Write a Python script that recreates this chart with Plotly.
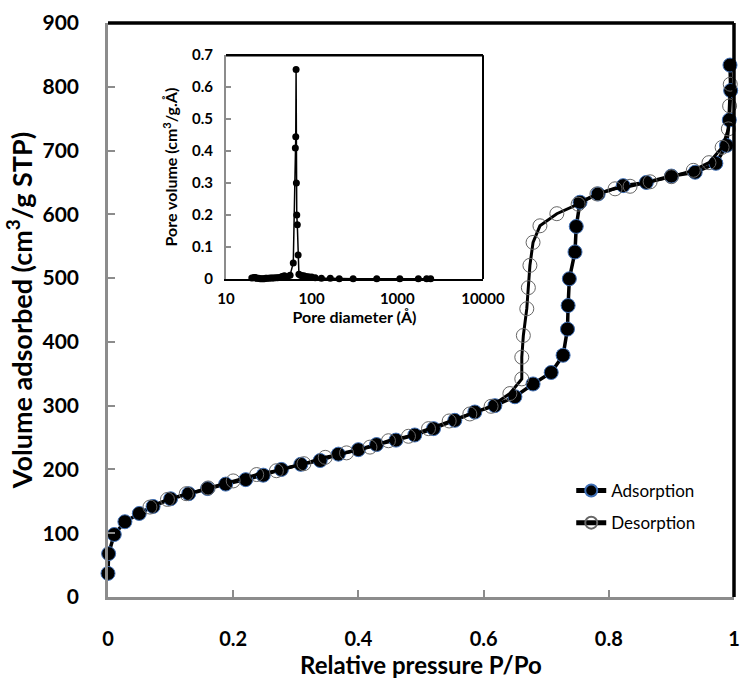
import plotly.graph_objects as go

# ---- Main isotherm data ----
P_ads = [0.0, 0.001, 0.010, 0.027, 0.050, 0.072, 0.100, 0.129, 0.159, 0.188, 0.220, 0.248,
         0.277, 0.308, 0.339, 0.368, 0.400, 0.429, 0.460, 0.490, 0.520, 0.554, 0.586, 0.618,
         0.650, 0.679, 0.708, 0.727, 0.734, 0.735, 0.737, 0.746, 0.748, 0.754, 0.783, 0.823,
         0.860, 0.900, 0.938, 0.971, 0.988, 0.9925, 0.9947, 0.9936]
V_ads = [37, 68, 98, 118, 131, 142, 154, 162, 170, 177, 184, 191,
         200, 208, 214, 224, 231, 239, 246, 254, 264, 277, 290, 300,
         314, 334, 352, 379, 420, 457, 499, 541, 581, 619, 632, 645,
         650, 660, 666, 680, 708, 748, 794, 834]

P_des = [0.994, 0.993, 0.991, 0.981, 0.960, 0.935, 0.900, 0.866, 0.834, 0.810, 0.781, 0.751,
         0.717, 0.690, 0.679, 0.674, 0.6715, 0.669, 0.6635, 0.661, 0.661, 0.642, 0.612, 0.578,
         0.545, 0.512, 0.480, 0.448, 0.4185, 0.381, 0.347, 0.313, 0.269, 0.2375, 0.200, 0.160,
         0.125, 0.095, 0.067]
V_des = [804, 770, 734, 705, 681, 669, 659, 651, 644, 640, 632, 616,
         601, 582, 556, 520, 485, 452, 410, 376, 342, 319, 299, 287,
         276, 264, 252, 245, 235, 226, 219, 209, 198, 192, 182, 171,
         162, 153, 141]

# ---- Inset pore size distribution ----
D_pore = [20, 21, 21.5, 22, 22.5, 23, 24, 25, 26, 27, 28, 29, 30, 31.5, 33, 34.5, 36, 38, 40,
          42, 45, 48, 52, 56, 61, 64.5, 65.2, 65.8, 66.3, 67, 68, 69.5, 71, 74, 77, 81, 86,
          92, 100, 110, 130, 165, 210, 305, 575, 1070, 1760, 2200, 2450]
V_pore = [0.003, 0.004, 0.005, 0.004, 0.003, 0.002, 0.002, 0.001, 0.001, 0.001, 0.001, 0.002,
          0.002, 0.002, 0.003, 0.003, 0.003, 0.004, 0.004, 0.005, 0.008, 0.010, 0.006, 0.012,
          0.050, 0.410, 0.445, 0.655, 0.300, 0.200, 0.170, 0.075, 0.015, 0.012, 0.010, 0.010,
          0.008, 0.007, 0.006, 0.004, 0.002, 0.002, 0.001, 0.001, 0.001, 0.001, 0.001, 0.001, 0.001]

x_ticks = [0, 0.2, 0.4, 0.6, 0.8, 1]
x_ticklabels = ["0", "0.2", "0.4", "0.6", "0.8", "1"]
y_ticks = list(range(0, 901, 100))
inset_y_ticks = [0, 0.1, 0.2, 0.3, 0.4, 0.5, 0.6, 0.7]
inset_y_labels = ["0", "0.1", "0.2", "0.3", "0.4", "0.5", "0.6", "0.7"]
inset_x_ticks = [10, 100, 1000, 10000]
inset_x_labels = ["10", "100", "1000", "10000"]

FONT = "Lato"

fig = go.Figure()

fig.add_trace(go.Scatter(
    x=P_ads, y=V_ads, mode="lines+markers", name="Adsorption", cliponaxis=False,
    legendgroup="a",
    line=dict(color="black", width=3.5),
    marker=dict(symbol="circle", size=14, color="black", line=dict(color="#3f6fb5", width=1)),
))
fig.add_trace(go.Scatter(
    x=P_des, y=V_des, mode="lines+markers", name="Desorption", cliponaxis=False,
    legendgroup="b",
    line=dict(color="black", width=3),
    marker=dict(symbol="circle-open", size=14, color="#666666", line=dict(width=1)),
))
fig.add_trace(go.Scatter(
    x=D_pore, y=V_pore, mode="lines+markers", xaxis="x2", yaxis="y2", showlegend=False,
    cliponaxis=False,
    line=dict(color="black", width=1.5),
    marker=dict(symbol="circle", size=7, color="black"),
))

fig.update_layout(
    width=740, height=685,
    margin=dict(l=108, r=6, t=23, b=88, autoexpand=False),
    plot_bgcolor="white", paper_bgcolor="white",
    font=dict(family=FONT, color="black"),
    xaxis=dict(
        range=[0, 1], tickvals=x_ticks, ticktext=x_ticklabels, automargin=False,
        showgrid=False, zeroline=False, showline=True, linecolor="#8c8c8c", linewidth=2.5,
        ticks="inside", ticklen=7, tickwidth=2, tickcolor="#8c8c8c",
        tickfont=dict(family=FONT, size=20, color="black", weight="bold"),
        ticklabelstandoff=22,
        title=dict(text="Relative pressure P/Po", font=dict(family=FONT, size=24, weight="bold"),
                   standoff=3),
    ),
    yaxis=dict(
        range=[0, 900], tickvals=y_ticks, automargin=False,
        showgrid=False, zeroline=False, showline=True, linecolor="#8c8c8c", linewidth=2.5,
        ticks="inside", ticklen=7, tickwidth=2, tickcolor="#8c8c8c",
        tickfont=dict(family=FONT, size=21, color="black", weight="bold"),
        ticklabelstandoff=22,
        title=dict(text="Volume adsorbed (cm<sup>3</sup>/g STP)",
                   font=dict(family=FONT, size=27, weight="bold"), standoff=3),
    ),
    xaxis2=dict(
        type="log", range=[1, 4], domain=[0.1885, 0.599], anchor="y2", automargin=False,
        tickvals=inset_x_ticks, ticktext=inset_x_labels,
        showgrid=False, zeroline=False, showline=True, linecolor="black", linewidth=2,
        ticks="",
        tickfont=dict(family=FONT, size=15, color="black", weight="bold"),
        ticklabelstandoff=5,
        title=dict(text="Pore diameter (Å)", font=dict(family=FONT, size=16, weight="bold"),
                   standoff=0),
    ),
    yaxis2=dict(
        range=[0, 0.7], domain=[0.554, 0.944], anchor="x2", automargin=False,
        tickvals=inset_y_ticks, ticktext=inset_y_labels,
        showgrid=False, zeroline=False, showline=True, linecolor="#8c8c8c", linewidth=2,
        ticks="inside", ticklen=5, tickwidth=1.5, tickcolor="#8c8c8c",
        tickfont=dict(family=FONT, size=15, color="black", weight="bold"),
        ticklabelstandoff=8,
        title=dict(text="Pore volume (cm<sup>3</sup>/g.Å)",
                   font=dict(family=FONT, size=16, weight="bold"), standoff=10),
    ),
    legend=dict(
        x=0.74, y=0.216, xanchor="left", yanchor="top",
        bgcolor="rgba(0,0,0,0)", font=dict(family=FONT, size=17, color="black"),
        itemsizing="constant", traceorder="grouped", tracegroupgap=7,
    ),
    shapes=[
        dict(type="line", xref="x domain", yref="y domain", x0=0, x1=1, y0=1, y1=1,
             line=dict(color="black", width=3.5), layer="above"),
        dict(type="line", xref="x domain", yref="y domain", x0=1, x1=1, y0=0, y1=1,
             line=dict(color="black", width=3.5), layer="above"),
        dict(type="line", xref="x2 domain", yref="y2 domain", x0=0, x1=1, y0=1, y1=1,
             line=dict(color="black", width=2.5), layer="above"),
        dict(type="line", xref="x2 domain", yref="y2 domain", x0=1, x1=1, y0=0, y1=1,
             line=dict(color="black", width=2), layer="above"),
    ],
)

fig.write_html("out.html")
